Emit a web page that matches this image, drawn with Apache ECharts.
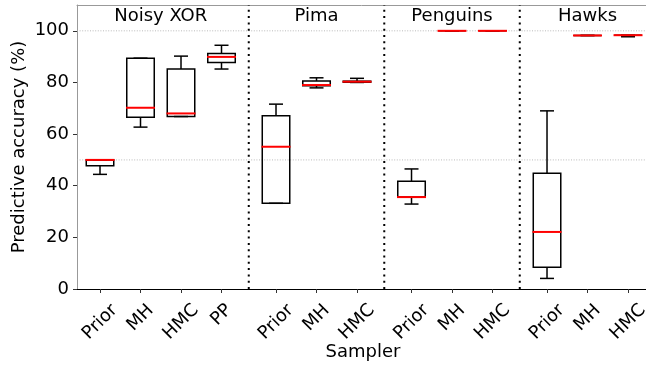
<!DOCTYPE html>
<html><head><meta charset="utf-8">
<script src="https://cdn.jsdelivr.net/npm/echarts@6/dist/echarts.min.js"></script>
<style>html,body{margin:0;padding:0;background:#fff;} #c{width:646px;height:367px;}</style>
</head><body><div id="c"></div>
<script>
// ---- data ----
const groupNames = ['Noisy XOR', 'Pima', 'Penguins', 'Hawks'];
const noisyXorSamplers = ['Prior', 'MH', 'HMC', 'PP'];
const pimaSamplers = ['Prior', 'MH', 'HMC'];
const penguinsSamplers = ['Prior', 'MH', 'HMC'];
const hawksSamplers = ['Prior', 'MH', 'HMC'];
// each row: [min, q1, median, q3, max]
const noisyXorStats = [
  [44.4, 47.7, 50.0, 50.0, 50.0],
  [62.7, 66.5, 70.2, 89.4, 89.4],
  [66.8, 66.8, 68.0, 85.2, 90.2],
  [85.2, 87.7, 89.9, 91.2, 94.4]
];
const pimaStats = [
  [33.2, 33.2, 55.1, 67.1, 71.6],
  [77.9, 78.7, 79.0, 80.6, 81.8],
  [80.0, 80.1, 80.3, 80.5, 81.6]
];
const penguinsStats = [
  [32.9, 35.6, 35.6, 41.7, 46.5],
  [100, 100, 100, 100, 100],
  [100, 100, 100, 100, 100]
];
const hawksStats = [
  [4.1, 8.4, 22.1, 44.8, 69.0],
  [98.2, 98.2, 98.2, 98.2, 98.2],
  [97.7, 98.3, 98.3, 98.3, 98.3]
];
const yTicks = [0, 20, 40, 60, 80, 100];
const refLines = [50, 100];

// ---- layout / style ----
const FONT = 'DejaVu Sans';
const GROUP_GAP = 0.3457;
const X_MIN = -0.568, X_MAX = 13.481;
const BOX_W = 27.5, CAP_W = 14;
const labelMargin = { Prior: 33, HMC: 33, MH: 29, PP: 26 };

const groups = [
  { samplers: noisyXorSamplers, stats: noisyXorStats },
  { samplers: pimaSamplers, stats: pimaStats },
  { samplers: penguinsSamplers, stats: penguinsStats },
  { samplers: hawksSamplers, stats: hawksStats }
];
const boxData = [], tickPos = [], labelPos = {}, centers = [], seps = [];
let idx = 0;
groups.forEach((g, k) => {
  const first = idx + k * GROUP_GAP;
  g.samplers.forEach((s, i) => {
    const pos = idx + k * GROUP_GAP;
    boxData.push([pos].concat(g.stats[i]));
    tickPos.push(pos);
    (labelPos[s] = labelPos[s] || []).push(pos);
    idx++;
  });
  const last = idx - 1 + k * GROUP_GAP;
  centers.push([(first + last) / 2, 110]);
  if (k < groups.length - 1) seps.push([(last + idx + (k + 1) * GROUP_GAP) / 2, 0]);
});

const xAxes = [{
  type: 'value', min: X_MIN, max: X_MAX, position: 'bottom', gridIndex: 0,
  axisLine: { show: true, onZero: false, lineStyle: { color: '#000', width: 1.2 } },
  axisTick: { show: true, customValues: tickPos, length: 4, lineStyle: { color: '#333', width: 1 } },
  axisLabel: { show: false },
  splitLine: { show: false },
  name: 'Sampler', nameLocation: 'middle', nameGap: 54, nameMoveOverlap: false,
  nameTextStyle: { fontSize: 18, color: '#000', fontFamily: FONT, padding: [0, 0, 0, 3] }
}, {
  type: 'value', min: X_MIN, max: X_MAX, position: 'top', offset: 0, gridIndex: 0,
  axisLine: { show: true, onZero: false, lineStyle: { color: '#999', width: 1 } },
  axisTick: { show: false }, axisLabel: { show: false }, splitLine: { show: false }
}];
Object.keys(labelPos).forEach(name => {
  xAxes.push({
    type: 'value', min: X_MIN, max: X_MAX, position: 'bottom', offset: 0, gridIndex: 0,
    axisLine: { show: false, onZero: false }, axisTick: { show: false }, splitLine: { show: false },
    axisLabel: {
      show: true, customValues: labelPos[name], formatter: () => name,
      rotate: 45, align: 'center', verticalAlign: 'middle', margin: labelMargin[name],
      fontSize: 18, color: '#000', fontFamily: FONT, hideOverlap: false
    }
  });
});

function renderBox(params, api) {
  const x = api.value(0);
  const ys = [1, 2, 3, 4, 5].map(i => api.coord([x, api.value(i)])[1]);
  const cx = api.coord([x, 0])[0];
  const [yMin, yQ1, yMed, yQ3, yMax] = ys;
  const blk = { stroke: '#000', lineWidth: 1.5, fill: 'none' };
  const hw = BOX_W / 2, cw = CAP_W / 2;
  return {
    type: 'group', children: [
      { type: 'line', shape: { x1: cx, y1: yQ1, x2: cx, y2: yMin }, style: blk },
      { type: 'line', shape: { x1: cx - cw, y1: yMin, x2: cx + cw, y2: yMin }, style: blk },
      { type: 'line', shape: { x1: cx, y1: yQ3, x2: cx, y2: yMax }, style: blk },
      { type: 'line', shape: { x1: cx - cw, y1: yMax, x2: cx + cw, y2: yMax }, style: blk },
      { type: 'rect', shape: { x: cx - hw, y: yQ3, width: 2 * hw, height: yQ1 - yQ3 }, style: blk },
      { type: 'line', shape: { x1: cx - hw - 0.75, y1: yMed, x2: cx + hw + 0.75, y2: yMed }, style: { stroke: '#ff0000', lineWidth: 2 } }
    ]
  };
}

const chart = echarts.init(document.getElementById('c'), null, { renderer: 'canvas' });
chart.setOption({
  animation: false,
  backgroundColor: '#fff',
  grid: { left: 77, top: 5, right: 0, bottom: 78, show: false, containLabel: false, outerBoundsMode: 'none' },
  xAxis: xAxes,
  yAxis: {
    type: 'value', min: 0, max: 110, gridIndex: 0,
    axisLine: { show: true, onZero: false, lineStyle: { color: '#999', width: 1 } },
    axisTick: { show: true, customValues: yTicks, length: 4, lineStyle: { color: '#333' } },
    axisLabel: { customValues: yTicks, margin: 8, fontSize: 18, color: '#000', fontFamily: FONT },
    splitLine: { show: false },
    name: 'Predictive accuracy (%)', nameLocation: 'middle', nameGap: 49, nameMoveOverlap: false,
    nameTextStyle: { fontSize: 18, color: '#000', fontFamily: FONT }
  },
  series: [
    {
      type: 'custom', name: 'refs', z: 1, xAxisIndex: 0, yAxisIndex: 0,
      data: refLines.map(v => [X_MIN, v]),
      renderItem: (params, api) => {
        const cs = params.coordSys;
        const y = api.coord([api.value(0), api.value(1)])[1];
        return { type: 'line', shape: { x1: cs.x, y1: y, x2: cs.x + cs.width, y2: y },
          style: { stroke: '#aaa', lineWidth: 0.8, lineDash: [1, 1.6] } };
      }
    },
    {
      type: 'custom', name: 'seps', z: 2, xAxisIndex: 0, yAxisIndex: 0,
      data: seps,
      renderItem: (params, api) => {
        const cs = params.coordSys;
        const x = api.coord([api.value(0), 0])[0];
        return { type: 'line', shape: { x1: x, y1: cs.y + cs.height, x2: x, y2: cs.y },
          style: { stroke: '#000', lineWidth: 2, lineDash: [2, 4.3] } };
      }
    },
    {
      type: 'custom', name: 'boxes', z: 3, xAxisIndex: 0, yAxisIndex: 0,
      data: boxData, encode: { x: 0, y: [1, 2, 3, 4, 5] },
      renderItem: renderBox
    },
    {
      type: 'custom', name: 'titles', z: 4, xAxisIndex: 0, yAxisIndex: 0,
      data: centers,
      renderItem: (params, api) => {
        const p = api.coord([api.value(0), api.value(1)]);
        return { type: 'text', x: p[0], y: p[1] + 11,
          style: { text: groupNames[params.dataIndex], fontSize: 18, fontFamily: FONT, fill: '#000', align: 'center', verticalAlign: 'middle' } };
      }
    }
  ]
});
</script></body></html>
